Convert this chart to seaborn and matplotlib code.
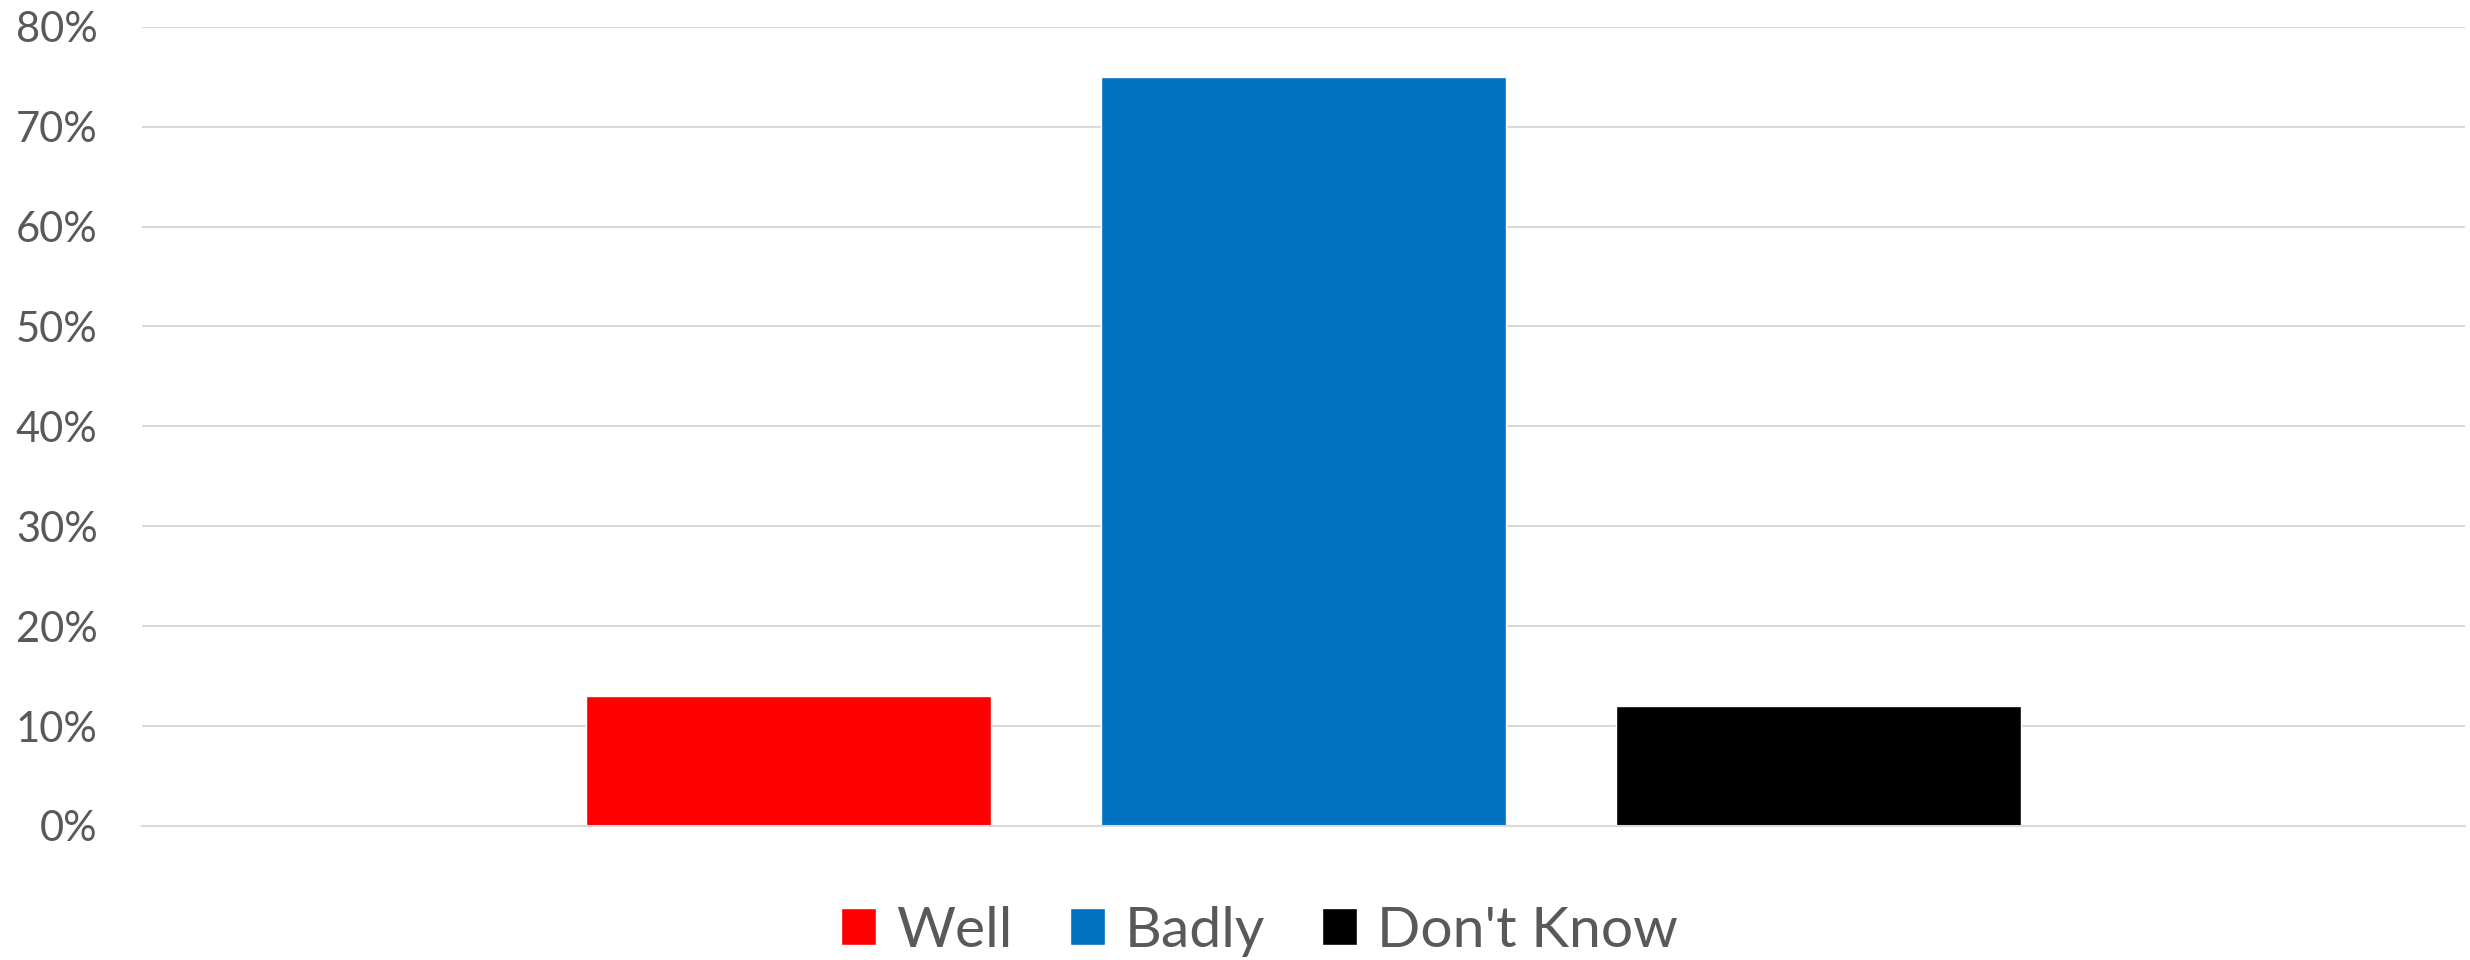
import pandas as pd
import seaborn as sns
import matplotlib.pyplot as plt
from matplotlib.ticker import PercentFormatter

series = ["Well", "Badly", "Don't Know"]
values = [0.13, 0.75, 0.12]
colors = ["#FF0000", "#0070C0", "#000000"]
yticks = [0, 0.1, 0.2, 0.3, 0.4, 0.5, 0.6, 0.7, 0.8]

df = pd.DataFrame({"group": [""] * len(series), "answer": series, "share": values})

sns.set_style("white")
plt.rcParams['font.family'] = ['Lato', 'DejaVu Sans']

fig = plt.figure(figsize=(24.7, 9.6), dpi=100)
ax = fig.add_axes([0.0575, 0.1396, 0.9405, 0.8325])

sns.barplot(data=df, x="group", y="share", hue="answer", hue_order=series,
            palette=colors, width=0.6655, gap=0.214, saturation=1,
            legend=True, ax=ax)

ax.set_xlim(-0.5, 0.5)
ax.set_ylim(0, 0.8)
ax.set_yticks(yticks)
ax.yaxis.set_major_formatter(PercentFormatter(1.0, decimals=0))
ax.set_xticks([])
ax.set_xlabel('')
ax.set_ylabel('')
ax.tick_params(axis='y', length=0, pad=32, labelsize=30, labelcolor='#595959')

ax.grid(axis='y', color='#D9D9D9', linewidth=1.5)
ax.set_axisbelow(True)
for s in ['top', 'right', 'left']:
    ax.spines[s].set_visible(False)
ax.spines['bottom'].set_color('#D9D9D9')
ax.spines['bottom'].set_linewidth(1.5)

handles, labels = ax.get_legend_handles_labels()
ax.legend(handles, labels, ncol=3, loc='center', frameon=False,
          bbox_to_anchor=(0.51, 0.03), bbox_transform=fig.transFigure,
          fontsize=41, labelcolor='#595959', handlelength=0.62, handleheight=0.62,
          handletextpad=0.35, columnspacing=1.0)

plt.savefig('out.png', dpi=100)
